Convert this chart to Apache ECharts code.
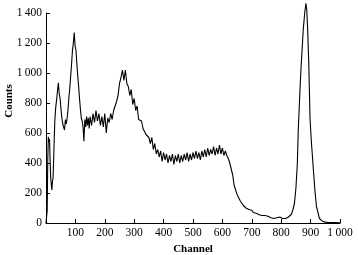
<!DOCTYPE html>
<html><head><meta charset="utf-8">
<script src="https://cdn.jsdelivr.net/npm/echarts@6/dist/echarts.min.js"></script>
<style>html,body{margin:0;padding:0;background:#fff}#c{width:358px;height:255px}</style>
</head><body><div id="c"></div>
<script>
var channels = [0,2,4,6,8,10,12,14,16,18,20,22,24,26,28,30,33,36,39,42,45,48,51,54,57,60,63,66,69,72,75,78,81,84,87,90,93,96,99,102,105,108,111,114,117,120,123,126,129,132,135,138,141,144,147,
150,155,160,165,170,175,180,185,190,195,200,205,210,215,220,225,230,235,240,245,250,255,260,265,270,275,280,285,290,295,300,305,310,315,320,325,330,335,340,345,350,355,360,365,370,375,380,385,390,395,400,405,410,415,420,425,430,435,440,445,450,455,460,465,470,475,480,485,490,495,500,505,510,515,520,525,530,535,540,545,550,555,560,565,570,575,580,585,590,595,600,605,610,615,620,625,630,635,640,645,650,655,660,665,670,675,680,685,690,695,700,705,710,715,720,725,730,735,740,745,750,755,760,765,770,775,780,785,790,795,800,805,810,815,820,825,830,835,840,845,850,855,858,862,866,870,875,880,884,887,890,894,898,902,906,910,915,920,925,930,935,940,950,960,980,1000];
var counts = [0,0,80,420,575,540,560,420,300,260,220,280,300,420,560,680,770,820,880,935,860,830,760,700,660,640,620,690,660,700,760,840,900,980,1060,1150,1200,1270,1180,1150,1060,980,910,830,760,700,680,640,545,690,640,710,650,700,630,
710,650,730,670,750,680,730,650,710,640,730,600,700,670,730,690,750,750,810,850,930,970,1020,950,1020,930,910,850,890,790,830,750,780,690,690,680,630,630,590,590,570,530,570,490,530,460,490,440,480,410,470,420,460,400,450,410,460,390,450,410,460,400,450,410,460,420,470,410,460,420,470,430,480,430,470,420,480,440,490,440,500,450,490,460,510,450,500,460,520,460,500,450,480,450,430,400,360,320,250,220,190,170,150,140,120,110,100,95,90,80,85,70,75,65,60,55,60,50,45,50,40,45,40,35,40,30,40,35,30,40,35,30,40,30,35,40,45,60,90,130,230,400,620,800,980,1120,1290,1400,1465,1420,1290,1050,700,560,450,340,210,110,70,30,20,12,6,4,3,2];
var xTicks = {min: 0, max: 1000, interval: 100};
var yTicks = {min: 0, max: 1400, interval: 200};

function fmt(v){ if (v >= 1000) { var s = String(v); return s.slice(0, s.length-3) + '\u2009' + s.slice(-3); } return String(v); }
var font = 'Liberation Serif';
var chart = echarts.init(document.getElementById('c'), null, {renderer: 'canvas'});
var data = channels.map(function(c, i){ return [c, counts[i]]; });
chart.setOption({
  animation: false,
  grid: {left: 46, right: 18, top: 13, bottom: 32, containLabel: false, outerBoundsMode: 'none'},
  xAxis: {
    type: 'value', min: xTicks.min, max: xTicks.max, interval: xTicks.interval,
    name: 'Channel', nameLocation: 'middle', nameGap: 18,
    nameTextStyle: {fontFamily: font, fontSize: 11, fontWeight: 'bold', color: '#000'},
    axisLine: {lineStyle: {color: '#000', width: 1}},
    axisTick: {inside: true, length: 4, lineStyle: {color: '#000'}},
    axisLabel: {fontFamily: font, fontSize: 11.5, color: '#000', margin: 4,
      formatter: function(v){ return v === 0 ? '' : fmt(v); }},
    splitLine: {show: false}
  },
  yAxis: {
    type: 'value', min: yTicks.min, max: yTicks.max, interval: yTicks.interval,
    axisLine: {show: true, lineStyle: {color: '#000', width: 1}},
    axisTick: {show: true, inside: true, length: 4, lineStyle: {color: '#000'}},
    axisLabel: {fontFamily: font, fontSize: 11.5, color: '#000', margin: 4, formatter: fmt},
    splitLine: {show: false}
  },
  graphic: [{
    type: 'text', x: 4, y: 101, rotation: Math.PI / 2,
    style: {text: 'Counts', fontFamily: font, fontSize: 11, fontWeight: 'bold', fill: '#000',
      align: 'center', verticalAlign: 'top'}
  }],
  series: [{
    type: 'line', data: data, showSymbol: false, clip: false,
    lineStyle: {color: '#000', width: 1.1}
  }]
});
</script></body></html>
